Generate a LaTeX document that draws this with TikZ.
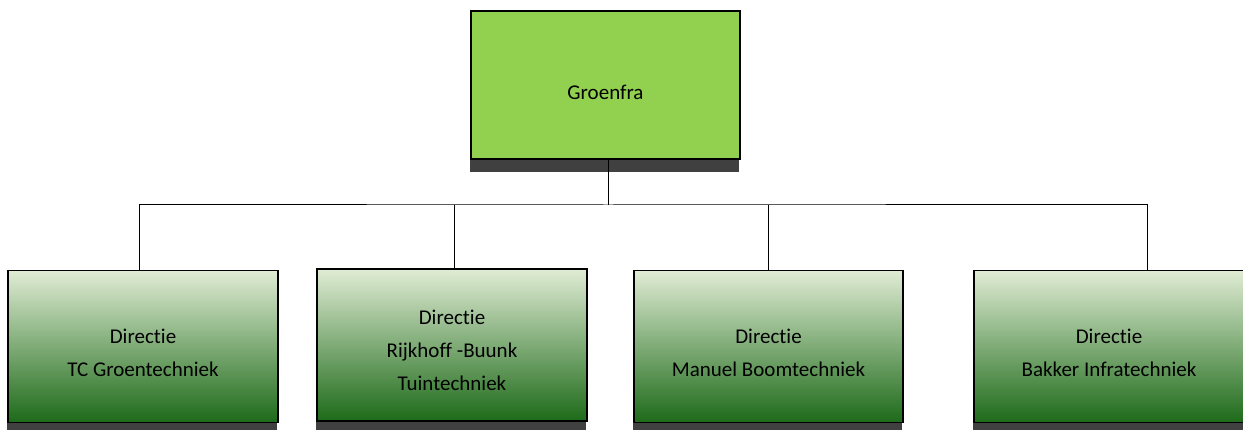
\documentclass[tikz,border=0pt]{standalone}
\usepackage{fontspec}
\setmainfont{Carlito}[Ligatures=NoCommon]
\definecolor{topgreen}{HTML}{92D050}
\definecolor{gtop}{HTML}{E0ECD4}
\definecolor{gmid}{HTML}{A3C179}
\definecolor{gbot}{HTML}{1D6A19}
\definecolor{shadowc}{HTML}{404040}
\begin{document}
\begin{tikzpicture}[x=1pt,y=-1pt]
\tikzset{
  topbox/.style={draw=black, line width=1.3pt, fill=topgreen, rectangle, inner sep=0pt,
    minimum width=269pt, minimum height=148pt},
  subbox/.style={draw=black, line width=1.3pt, rectangle, inner sep=0pt,
    top color=gtop, middle color=gmid, bottom color=gbot,
    minimum width=270pt, minimum height=152pt},
  lbl/.style={inner sep=0pt, font=\fontsize{21}{33}\selectfont, align=center},
  conn/.style={draw=black, line width=1pt},
  shadowband/.style={fill=shadowc}
}
\useasboundingbox (0,0) rectangle (1243,430);
\clip (0,0) rectangle (1243,430);
\fill[white] (0,0) rectangle (1243,430);
% top box
\node[topbox] (top) at (605.5,85) {};
\fill[shadowband] (top.south west) rectangle ++(269,12);
\node[lbl] (ltop) at ([yshift=-7pt]top.center) {Groenfra};
% sub boxes
\node[subbox] (b1) at (143,346.5) {};
\node[subbox] (b2) at (452,345) {};
\node[subbox, minimum width=269pt] (b3) at (768.5,346.5) {};
\node[subbox] (b4) at (1109,346.5) {};
\node[lbl] (l1) at ([yshift=-6pt]b1.center) {Directie\\TC Groentechniek};
\node[lbl] (l2) at ([yshift=-5pt]b2.center) {Directie\\Rijkhoff -Buunk\\Tuintechniek};
\node[lbl] (l3) at ([yshift=-6pt]b3.center) {Directie\\Manuel Boomtechniek};
\node[lbl] (l4) at ([yshift=-6pt]b4.center) {Directie\\Bakker Infratechniek};
\fill[shadowband] (b1.south west) rectangle ++(270,10);
\fill[shadowband] (b2.south west) rectangle ++(270,10);
\fill[shadowband] (b3.south west) rectangle ++(269,10);
\fill[shadowband] (b4.south west) rectangle ++(270,10);
% connectors
\coordinate (bus) at (608,205);
\coordinate (t1) at (139,271);
\coordinate (t2) at (454,269);
\coordinate (t3) at (768,270);
\coordinate (t4) at (1147,271);
\draw[conn] (top.south -| bus) -- (bus);
\draw[conn] (t1) |- (bus) -| (t4);
\draw[conn] (t2) -- (t2 |- bus);
\draw[conn] (t3) -- (t3 |- bus);
\end{tikzpicture}
\end{document}
